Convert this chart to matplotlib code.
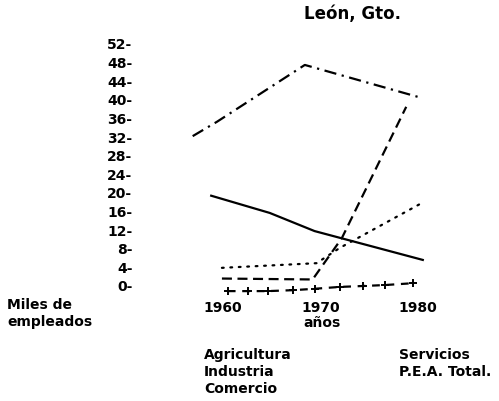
import matplotlib
matplotlib.use("Agg")
import matplotlib.pyplot as plt

# values (miles de empleados)
pea_years = [1956.9, 1959.4, 1968.4, 1980.4]
pea_total = [32.2, 35.3, 47.5, 40.4]

agri_years = [1958.8, 1964.8, 1969.4, 1980.5]
agricultura = [19.4, 15.7, 11.8, 5.6]

serv_years = [1959.9, 1969.2, 1972.2, 1978.8]
servicios = [1.6, 1.4, 10.3, 38.5]

com_years = [1959.9, 1969.6, 1972.0, 1980.2]
comercio = [3.9, 4.9, 8.2, 17.6]

ind_years = [1960.5, 1962.6, 1964.6, 1967.2, 1969.4, 1972.0, 1974.4, 1976.6, 1979.5]
industria = [-1.1, -1.1, -1.1, -0.9, -0.6, -0.2, 0.0, 0.2, 0.6]

yticks = list(range(0, 53, 4))
xticks = [1960, 1970, 1980]

W, H = 499, 401
fig = plt.figure(figsize=(W / 100, H / 100), dpi=100)
ax = fig.add_axes([0.349, 0.252, 0.5276, 0.6615])

lw = 1.6
ax.plot(pea_years, pea_total, color="black", lw=lw, dashes=[5.5, 2.5, 1, 2.5])
ax.plot(agri_years, agricultura, color="black", lw=lw)
ax.plot(serv_years, servicios, color="black", lw=lw, dashes=[4.5, 2.5])
ax.plot(com_years, comercio, color="black", lw=lw, dashes=[0.8, 3.0],
        dash_capstyle="round")
ax.plot(ind_years, industria, color="black", lw=lw, dashes=[3.5, 3],
        marker="+", markersize=6, markeredgewidth=1.4)

ax.set_xlim(1955, 1982)
ax.set_ylim(-3, 54)
for s in ax.spines.values():
    s.set_visible(False)

font = dict(family="DejaVu Sans", weight="bold", size=10)
ax.set_yticks(yticks, [f"{v}-" for v in yticks], **font)
ax.set_xticks(xticks, [str(v) for v in xticks], **font)
ax.tick_params(axis="y", length=0, pad=30)
ax.tick_params(axis="x", length=0, pad=1)


def put(x, y, s, **kw):
    args = dict(font)
    args.update(kw)
    fig.text(x / W, 1 - y / H, s, va="center", **args)


put(353, 14, "León, Gto.", ha="center", size=12)
put(7, 305, "Miles de")
put(7, 322, "empleados")
put(322, 323, "años", ha="center")
put(204, 355, "Agricultura")
put(204, 372, "Industria")
put(204, 389, "Comercio")
put(399, 355, "Servicios")
put(399, 372, "P.E.A. Total.")

fig.savefig("out.png", dpi=100)
